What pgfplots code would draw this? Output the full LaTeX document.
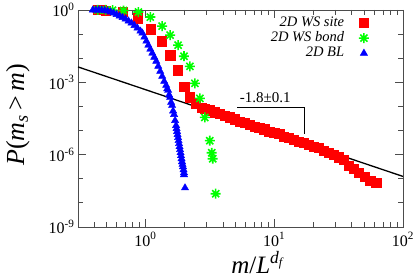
\documentclass[border=0pt]{standalone}
\usepackage{fontspec}
\setmainfont{Liberation Serif}
\usepackage{pgfplots}
\pgfplotsset{compat=1.18}
\pgfdeclareplotmark{star8}{%
  \pgfpathmoveto{\pgfqpoint{-\pgfplotmarksize}{0pt}}\pgfpathlineto{\pgfqpoint{\pgfplotmarksize}{0pt}}%
  \pgfpathmoveto{\pgfqpoint{0pt}{-\pgfplotmarksize}}\pgfpathlineto{\pgfqpoint{0pt}{\pgfplotmarksize}}%
  \pgfpathmoveto{\pgfqpoint{-0.707\pgfplotmarksize}{-0.707\pgfplotmarksize}}\pgfpathlineto{\pgfqpoint{0.707\pgfplotmarksize}{0.707\pgfplotmarksize}}%
  \pgfpathmoveto{\pgfqpoint{-0.707\pgfplotmarksize}{0.707\pgfplotmarksize}}\pgfpathlineto{\pgfqpoint{0.707\pgfplotmarksize}{-0.707\pgfplotmarksize}}%
  \pgfusepathqstroke}
\definecolor{myred}{RGB}{255,0,0}
\definecolor{mygreen}{RGB}{0,255,0}
\definecolor{myblue}{RGB}{0,0,255}
\begin{document}
\begin{tikzpicture}
\begin{axis}[
  name=ax,
  scale only axis, width=325pt, height=217pt,
  xmode=log, ymode=log,
  xmin=0.3, xmax=100, ymin=1e-9, ymax=1,
  xtick={1,10,100}, xticklabels={10\textsuperscript{0},10\textsuperscript{1},10\textsuperscript{2}},
  minor xtick={0.4,0.5,0.6,0.7,0.8,0.9,2,3,4,5,6,7,8,9,20,30,40,50,60,70,80,90},
  ytick={1e-9,1e-6,1e-3,1}, yticklabels={10\textsuperscript{-9},10\textsuperscript{-6},10\textsuperscript{-3},10\textsuperscript{0}},
  minor ytick={1e-8,1e-7,1e-5,1e-4,1e-2,1e-1},
  tick align=inside, major tick length=8pt, minor tick length=5pt,
  tick style={black!70, line width=0.8pt}, axis line style={black!70, line width=0.9pt},
  ticklabel style={font=\fontsize{16}{16}\selectfont},
  xticklabel style={yshift=-2pt},
  xlabel={\textit{m}/\textit{L}\textsuperscript{\textit{d}\textsubscript{\textit{f}}}},
  ylabel={\textit{P}(\textit{m}\textsubscript{\textit{s}}\,\textgreater\,\textit{m})},
  every axis x label/.style={at={(axis description cs:0.554,-0.212)}, anchor=base, font=\fontsize{25}{25}\selectfont},
  every axis y label/.style={at={(axis description cs:-0.185,0.516)}, anchor=center, rotate=90, font=\fontsize{26}{26}\selectfont},
  legend plot pos=right,
  legend cell align=right,
  legend style={draw=none, fill=none, at={(0.905,0.985)}, anchor=north east,
    font=\fontsize{14.5}{14.5}\selectfont\itshape, row sep=0pt,
    nodes={text height=10pt, text depth=3.5pt, inner sep=0.8pt},
    /tikz/every odd column/.append style={column sep=14pt}},
  clip=true,
]
\addplot[only marks, mark=square*, mark size=4.6pt, color=myred] coordinates {
(0.427,1)(0.459,1)(0.492,0.95)(0.665,0.83)(0.868,0.46)(1.093,0.16)(1.33,0.051)(1.56,0.0133)(1.79,3.2e-3)(2.0,6.8e-4)(2.22,2.4e-4)(2.47,1.33e-4)(2.74,9.1e-5)
(2.894,8.26e-5)(3.162,7.05e-5)(3.455,5.74e-5)(3.775,5.13e-5)(4.125,4.17e-5)(4.507,3.56e-5)(4.924,2.96e-5)(5.38,2.42e-5)(5.878,2.06e-5)(6.422,1.75e-5)(7.017,1.5e-5)(7.666,1.28e-5)(8.377,1.14e-5)(9.152,9.3e-6)(10,7.9e-6)(10.93,7.2e-6)(11.94,5.75e-6)(13.04,4.9e-6)(14.25,4.18e-6)(15.57,3.56e-6)(17.01,3.04e-6)(18.59,2.59e-6)(20.31,2.21e-6)(22.19,1.88e-6)(24.24,1.5e-6)(26.49,1.22e-6)(28.94,9.7e-7)(31.62,7.9e-7)(34.55,6.0e-7)
(37.8,3.48e-7)(41.2,2.61e-7)(45.1,1.78e-7)(50.1,1.21e-7)(55.7,8.3e-8)(62.0,6.8e-8)
};
\addlegendentry{2D WS site}
\addplot[only marks, mark=star8, mark size=5pt, color=mygreen, line width=1.6pt] coordinates {
(0.427,1)(0.492,1)(0.557,0.98)(0.677,0.95)(0.883,0.826)(1.093,0.51)(1.35,0.215)(1.557,0.091)(1.794,0.0348)(1.995,0.0121)(2.218,4.6e-3)(2.425,9.1e-4)(2.65,2.15e-4)(2.894,3.5e-5)(3.162,3.8e-6)(3.275,1.2e-6)(3.335,6.8e-7)(3.516,2.4e-8)
};
\addlegendentry{2D WS bond}
\addplot[only marks, mark=triangle*, mark size=4.2pt, color=myblue] coordinates {
(0.391,1)(0.4124,1)(0.435,1)(0.4587,1)(0.4838,0.953)(0.5102,0.909)(0.538,0.825)(0.5675,0.75)(0.5983,0.649)(0.631,0.562)(0.6654,0.487)(0.7017,0.422)(0.74,0.348)(0.7805,0.287)(0.8231,0.226)(0.868,0.178)(0.9153,0.133)(0.9482,0.110)(0.9824,0.075)(1.018,0.0511)(1.0546,0.0348)(1.0926,0.0237)(1.1318,0.01616)(1.1728,0.0110)(1.215,7.5e-3)(1.2589,4.64e-3)(1.3043,2.87e-3)(1.351,1.78e-3)(1.4,1.10e-3)(1.4503,7.5e-4)(1.4765,5.36e-4)(1.5027,4.64e-4)(1.5298,3.01e-4)(1.557,2.37e-4)(1.5849,1.47e-4)(1.613,1.10e-4)(1.6421,6.5e-5)(1.671,4.64e-5)(1.7013,2.61e-5)(1.7316,1.62e-5)(1.7474,1.21e-5)(1.7624,9.1e-6)(1.7783,6.8e-6)(1.794,5.1e-6)(1.81,3.83e-6)(1.826,2.87e-6)(1.8425,2.15e-6)(1.8586,1.62e-6)(1.8756,1.21e-6)(1.892,9.1e-7)(1.9094,6.8e-7)(1.926,5.1e-7)(1.9437,4.0e-7)(1.96,3.16e-7)(1.9786,2.37e-7)(1.995,1.78e-7)(1.995,1.47e-7)(2.031,4.2e-8)
};
\addlegendentry{2D BL}
\addplot[black, line width=1.3pt, forget plot] coordinates {(0.3,4.36e-3)(100,1.25e-7)};
\addplot[black, line width=1.3pt, forget plot] coordinates {(5.19,9.1e-5)(17.3,9.1e-5)(17.3,7.5e-6)};
\node[font=\fontsize{15}{15}\selectfont, anchor=base] at (axis cs:8.53,1.47e-4) {-1.8±0.1};
\end{axis}
\pgfresetboundingbox
\path ([xshift=-78pt,yshift=-53pt]ax.south west) rectangle ([xshift=12pt,yshift=10pt]ax.north east);
\end{tikzpicture}
\end{document}
